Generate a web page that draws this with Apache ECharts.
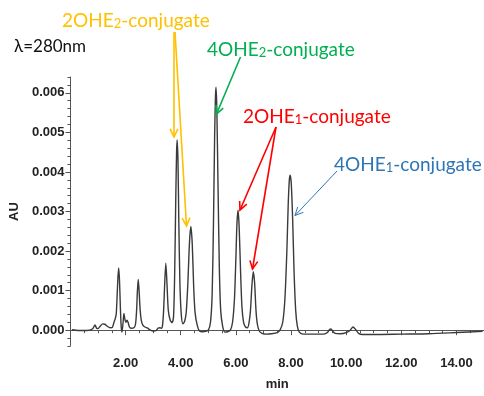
<!DOCTYPE html>
<html>
<head>
<meta charset="utf-8">
<script src="https://cdn.jsdelivr.net/npm/echarts@6/dist/echarts.min.js"></script>
<style>
  html, body { margin: 0; background: #fff; }
  #main { width: 484px; height: 396px; }
</style>
</head>
<body>
<div id="main"></div>
<script>
// retention time (min) and absorbance (AU)
const times = [
  0.05, 0.3, 0.6, 0.8, 0.89, 0.95, 1.0, 1.1, 1.17, 1.25, 1.3, 1.38, 1.45, 1.52, 1.58, 1.62, 1.66,
  1.69, 1.72, 1.75, 1.78, 1.81, 1.84, 1.87, 1.91, 1.94, 1.97, 2.01, 2.05, 2.09, 2.14, 2.2, 2.3,
  2.36, 2.4, 2.43, 2.46, 2.49, 2.53, 2.57, 2.63, 2.7, 2.8, 2.9, 3.0, 3.1, 3.18, 3.25, 3.3,
  3.34, 3.38, 3.42, 3.46, 3.5, 3.55, 3.62, 3.69, 3.74, 3.78, 3.82, 3.85, 3.87, 3.9, 3.93, 3.97,
  4.02, 4.08, 4.14, 4.2, 4.26, 4.32, 4.37, 4.42, 4.47, 4.52, 4.6, 4.68, 4.8, 4.9, 5.0, 5.08,
  5.14, 5.19, 5.23, 5.26, 5.28, 5.31, 5.35, 5.4, 5.45, 5.52, 5.6, 5.7, 5.8, 5.88, 5.95, 6.0,
  6.04, 6.08, 6.12, 6.17, 6.22, 6.28, 6.35, 6.42, 6.48, 6.53, 6.58, 6.63, 6.68, 6.73, 6.78, 6.85,
  6.95, 7.1, 7.3, 7.5, 7.6, 7.7, 7.78, 7.85, 7.9, 7.94, 7.97, 8.01, 8.06, 8.11, 8.17, 8.23,
  8.3, 8.45, 8.7, 9.0, 9.2, 9.32, 9.4, 9.45, 9.52, 9.6, 9.8, 10.0, 10.15, 10.25, 10.33, 10.45,
  10.6, 11.0, 12.0, 13.0, 14.0, 14.95
];
const absorbance = [
  0.01e-3, -0.01e-3, -0.01e-3, 0.03e-3, 0.13e-3, 0.05e-3, 0.04e-3, 0.12e-3, 0.16e-3, 0.15e-3, 0.12e-3, 0.08e-3, 0.06e-3, 0.07e-3, 0.2e-3, 0.28e-3, 0.4e-3,
  0.8e-3, 1.3e-3, 1.57e-3, 1.25e-3, 0.6e-3, 0.1e-3, -0.05e-3, 0.2e-3, 0.42e-3, 0.3e-3, 0.2e-3, 0.25e-3, 0.2e-3, 0.08e-3, 0.05e-3, 0.06e-3,
  0.15e-3, 0.5e-3, 1.0e-3, 1.28e-3, 1.0e-3, 0.5e-3, 0.25e-3, 0.12e-3, 0.08e-3, 0.05e-3, 0.0, -0.02e-3, -0.01e-3, 0.05e-3, 0.06e-3, 0.05e-3,
  0.12e-3, 0.5e-3, 1.2e-3, 1.69e-3, 1.2e-3, 0.5e-3, 0.25e-3, 0.19e-3, 0.35e-3, 1.4e-3, 3.3e-3, 4.5e-3, 4.81e-3, 4.3e-3, 2.8e-3, 1.2e-3,
  0.4e-3, 0.16e-3, 0.22e-3, 0.45e-3, 1.2e-3, 2.25e-3, 2.62e-3, 2.15e-3, 1.1e-3, 0.45e-3, 0.12e-3, -0.02e-3, -0.04e-3, -0.03e-3, 0.0, 0.2e-3,
  0.9e-3, 2.8e-3, 4.9e-3, 5.9e-3, 6.14e-3, 5.6e-3, 3.8e-3, 1.6e-3, 0.5e-3, 0.1e-3, -0.05e-3, -0.04e-3, 0.0, 0.2e-3, 0.8e-3, 1.8e-3,
  2.7e-3, 3.03e-3, 2.6e-3, 1.5e-3, 0.6e-3, 0.2e-3, 0.08e-3, 0.06e-3, 0.2e-3, 0.5e-3, 1.1e-3, 1.48e-3, 1.2e-3, 0.5e-3, 0.15e-3, -0.02e-3,
  -0.08e-3, -0.1e-3, -0.09e-3, -0.06e-3, 0.0, 0.2e-3, 0.8e-3, 2.0e-3, 3.2e-3, 3.8e-3, 3.92e-3, 3.7e-3, 2.8e-3, 1.5e-3, 0.5e-3, 0.1e-3,
  -0.05e-3, -0.1e-3, -0.1e-3, -0.1e-3, -0.1e-3, -0.06e-3, 0.02e-3, 0.03e-3, -0.03e-3, -0.08e-3, -0.09e-3, -0.06e-3, 0.0, 0.08e-3, 0.03e-3, -0.08e-3,
  -0.11e-3, -0.11e-3, -0.1e-3, -0.09e-3, -0.06e-3, -0.03e-3
];
const xTicks = [2, 4, 6, 8, 10, 12, 14];
const yTicks = [0, 0.001, 0.002, 0.003, 0.004, 0.005, 0.006];

const tickFont = "'Liberation Sans Narrow', 'Liberation Sans', Arial, sans-serif";
const noteFont = "Lato, 'Open Sans', sans-serif";
const axisGray = '#555';

const chart = echarts.init(document.getElementById('main'));

function arrow(x1, y1, x2, y2, color, w) {
  const ang = Math.atan2(y2 - y1, x2 - x1);
  const L = 9, a = 0.45;
  const p1 = [x2 - L * Math.cos(ang - a), y2 - L * Math.sin(ang - a)];
  const p2 = [x2 - L * Math.cos(ang + a), y2 - L * Math.sin(ang + a)];
  return [
    { type: 'line', silent: true, z: 100, shape: { x1: x1, y1: y1, x2: x2, y2: y2 }, style: { stroke: color, lineWidth: w } },
    { type: 'polyline', silent: true, z: 100, shape: { points: [p1, [x2, y2], p2] }, style: { stroke: color, lineWidth: w, fill: null } }
  ];
}

function label(x, y, head, sub, tail, color) {
  return {
    type: 'text', silent: true, z: 100, x: x, y: y,
    style: {
      text: '{a|' + head + '}{s|' + sub + '}{a|' + tail + '}',
      verticalAlign: 'middle',
      fill: color,
      rich: {
        a: { fontFamily: noteFont, fontSize: 19, fill: color, verticalAlign: 'bottom', lineHeight: 23 },
        s: { fontFamily: noteFont, fontSize: 13, fill: color, verticalAlign: 'bottom', lineHeight: 23 }
      }
    }
  };
}

const orange = '#FFC000', green = '#00B050', red = '#FF0000', blue = '#2E75B6';

const graphics = [].concat(
  [label(62, 19, '2OHE', '2', '-conjugate', orange)],
  [label(207, 48, '4OHE', '2', '-conjugate', green)],
  [label(243, 115, '2OHE', '1', '-conjugate', red)],
  [label(334, 163, '4OHE', '1', '-conjugate', blue)],
  [{
    type: 'text', silent: true, z: 100, x: 14, y: 47,
    style: { text: 'λ=280nm', fill: '#111', fontFamily: noteFont, fontSize: 17, verticalAlign: 'middle' }
  }],
  arrow(174, 32, 174, 137, orange, 1.6),
  arrow(175, 32, 186.5, 226, orange, 1.6),
  arrow(240.5, 57, 216.5, 114, green, 1.6),
  arrow(276, 127, 240, 210, red, 1.6),
  arrow(276, 127, 252.5, 269, red, 1.6),
  arrow(337, 171, 295, 215.5, blue, 1)
);

const option = {
  animation: false,
  backgroundColor: '#fff',
  grid: { left: 68, top: 77, width: 418, height: 275 },
  xAxis: [{
    type: 'value', position: 'bottom', min: 0, max: 15, interval: 0.5,
    name: 'min', nameLocation: 'middle', nameGap: 32,
    nameTextStyle: { fontFamily: tickFont, fontWeight: 'bold', fontSize: 13, color: '#222' },
    axisLine: { lineStyle: { color: axisGray, width: 1 } },
    axisTick: { length: 3, lineStyle: { color: axisGray } },
    axisLabel: {
      customValues: xTicks, margin: 11, formatter: (v) => v.toFixed(2),
      fontFamily: tickFont, fontWeight: 'bold', fontSize: 13, color: '#222'
    },
    splitLine: { show: false }
  }, {
    type: 'value', position: 'bottom', min: 0, max: 15,
    axisLine: { show: false },
    axisTick: { customValues: xTicks, length: 5, lineStyle: { color: axisGray } },
    axisLabel: { show: false },
    splitLine: { show: false }
  }],
  yAxis: [{
    type: 'value', position: 'left', min: -0.0004, max: 0.0064, interval: 0.0002,
    name: 'AU', nameLocation: 'middle', nameGap: 34, nameRotate: 90,
    nameTextStyle: { fontFamily: tickFont, fontWeight: 'bold', fontSize: 13, color: '#222' },
    axisLine: { show: true, lineStyle: { color: axisGray, width: 1 } },
    axisTick: { show: true, length: 3, lineStyle: { color: axisGray } },
    axisLabel: {
      customValues: yTicks, margin: 6, formatter: (v) => v.toFixed(3),
      fontFamily: tickFont, fontWeight: 'bold', fontSize: 13, color: '#222'
    },
    splitLine: { show: false }
  }, {
    type: 'value', position: 'left', min: -0.0004, max: 0.0064,
    axisLine: { show: false },
    axisTick: { show: true, customValues: yTicks, length: 5, lineStyle: { color: axisGray } },
    axisLabel: { show: false },
    splitLine: { show: false }
  }],
  series: [{
    type: 'line',
    xAxisIndex: 0, yAxisIndex: 0,
    data: times.map((t, i) => [t, absorbance[i]]),
    showSymbol: false, silent: true,
    smooth: 0.25,
    lineStyle: { color: '#3a3a3a', width: 1.4 }
  }],
  graphic: graphics
};

chart.setOption(option);
</script>
</body>
</html>
